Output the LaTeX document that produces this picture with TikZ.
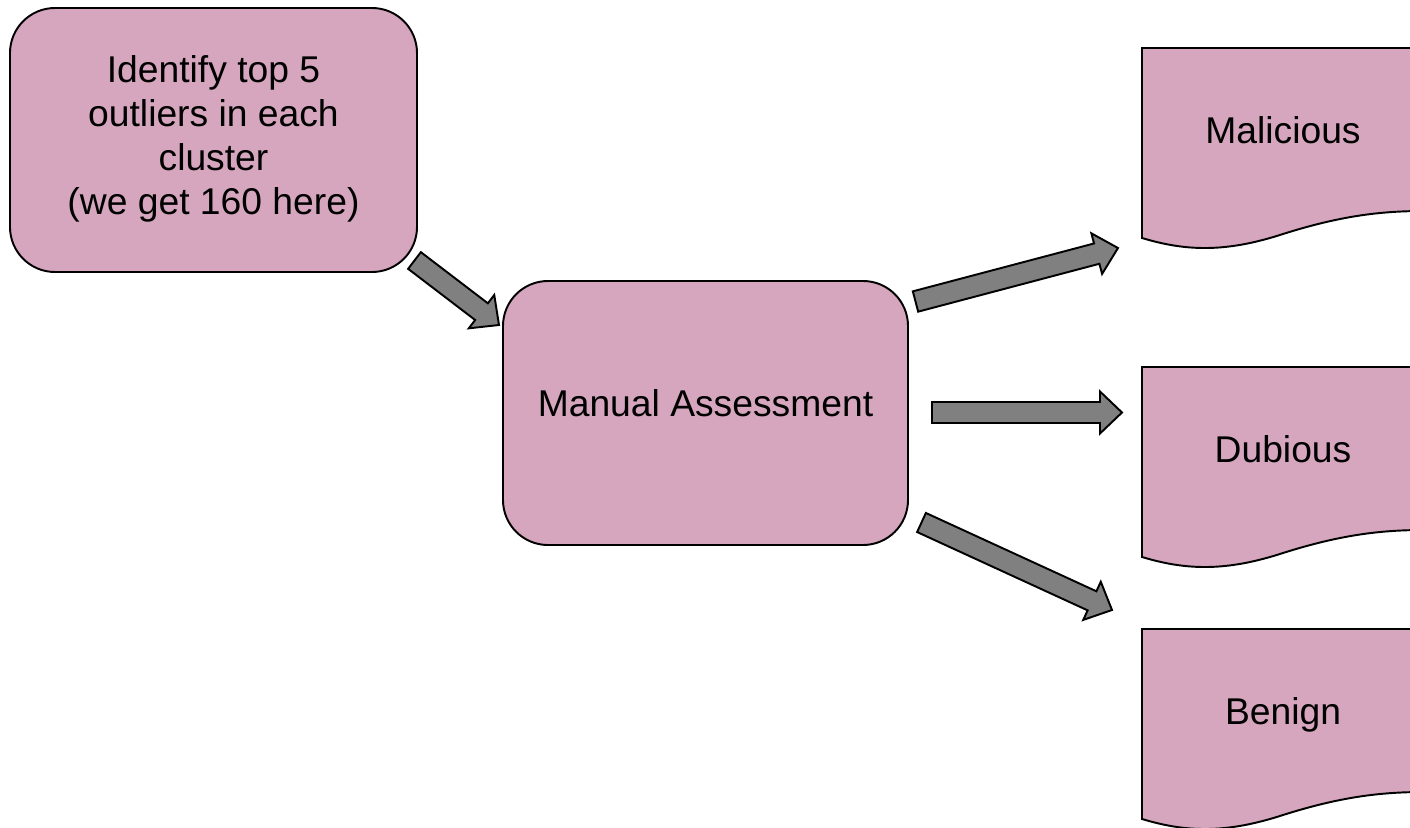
\documentclass[tikz,border=0pt]{standalone}
\usepackage{fontspec}
\setmainfont{Liberation Sans}
\usetikzlibrary{calc}

\definecolor{boxpink}{HTML}{D5A6BD}
\definecolor{arrowgray}{HTML}{808080}

% block arrow from #1 (tail) to #2 (tip)
\newcommand{\blockarr}[2]{%
  \coordinate (hb) at ($(#2)!4.4mm!(#1)$);
  \filldraw[fill=arrowgray,draw=black,line width=1.1pt]
    ($(#1)!2.1mm!90:(#2)$) -- ($(hb)!2.1mm!90:(#2)$) -- ($(hb)!4.2mm!90:(#2)$)
    -- (#2) -- ($(hb)!4.2mm!-90:(#2)$) -- ($(hb)!2.1mm!-90:(#2)$)
    -- ($(#1)!2.1mm!-90:(#2)$) -- cycle;
}

\begin{document}
\begin{tikzpicture}[x=0.2mm,y=-0.2mm,
        txt/.style={font=\fontsize{21.2pt}{25pt}\selectfont},
        roundbox/.style={txt,rectangle,rounded corners=9mm,draw=black,line width=1.1pt,
          fill=boxpink,minimum width=81.4mm,minimum height=52.8mm,align=center,inner sep=0pt}]
        \clip (0,0) rectangle (1410,828);

        \node[roundbox] (ident) at (213.5,140) {\raisebox{-1mm}{\begin{tabular}{@{}c@{}}Identify top 5\\outliers in each\\cluster\\(we get 160 here)\end{tabular}}};
        \node[roundbox,minimum width=81mm] (assess) at (705.5,413) {\raisebox{4mm}{Manual Assessment}};

        % result documents
        \foreach \t/\name/\label in {48/malicious/Malicious,367/dubious/Dubious,629/benign/Benign} {
          \filldraw[fill=boxpink,draw=black,line width=1.1pt]
            (1142,\t) -- (1424,\t) -- (1424,\t+163)
            .. controls (1380,\t+163) and (1340,\t+168) .. (1283,\t+186)
            .. controls (1225,\t+205) and (1185,\t+203) .. (1142,\t+190) -- cycle;
          \node[txt,anchor=base] (\name) at (1283,\t+95) {\label};
        }

        \coordinate (a1s) at (414.5,260.5);
        \coordinate (a1t) at (499,325);
        \coordinate (a2s) at (915.5,301.5);
        \coordinate (a2t) at (1118,248);
        \coordinate (a3s) at (932,412.5);
        \coordinate (a3t) at (1122,412.5);
        \coordinate (a4s) at (921.5,522.5);
        \coordinate (a4t) at (1112,610);
        \blockarr{a1s}{a1t}
        \blockarr{a2s}{a2t}
        \blockarr{a3s}{a3t}
        \blockarr{a4s}{a4t}
      \end{tikzpicture}
\end{document}
